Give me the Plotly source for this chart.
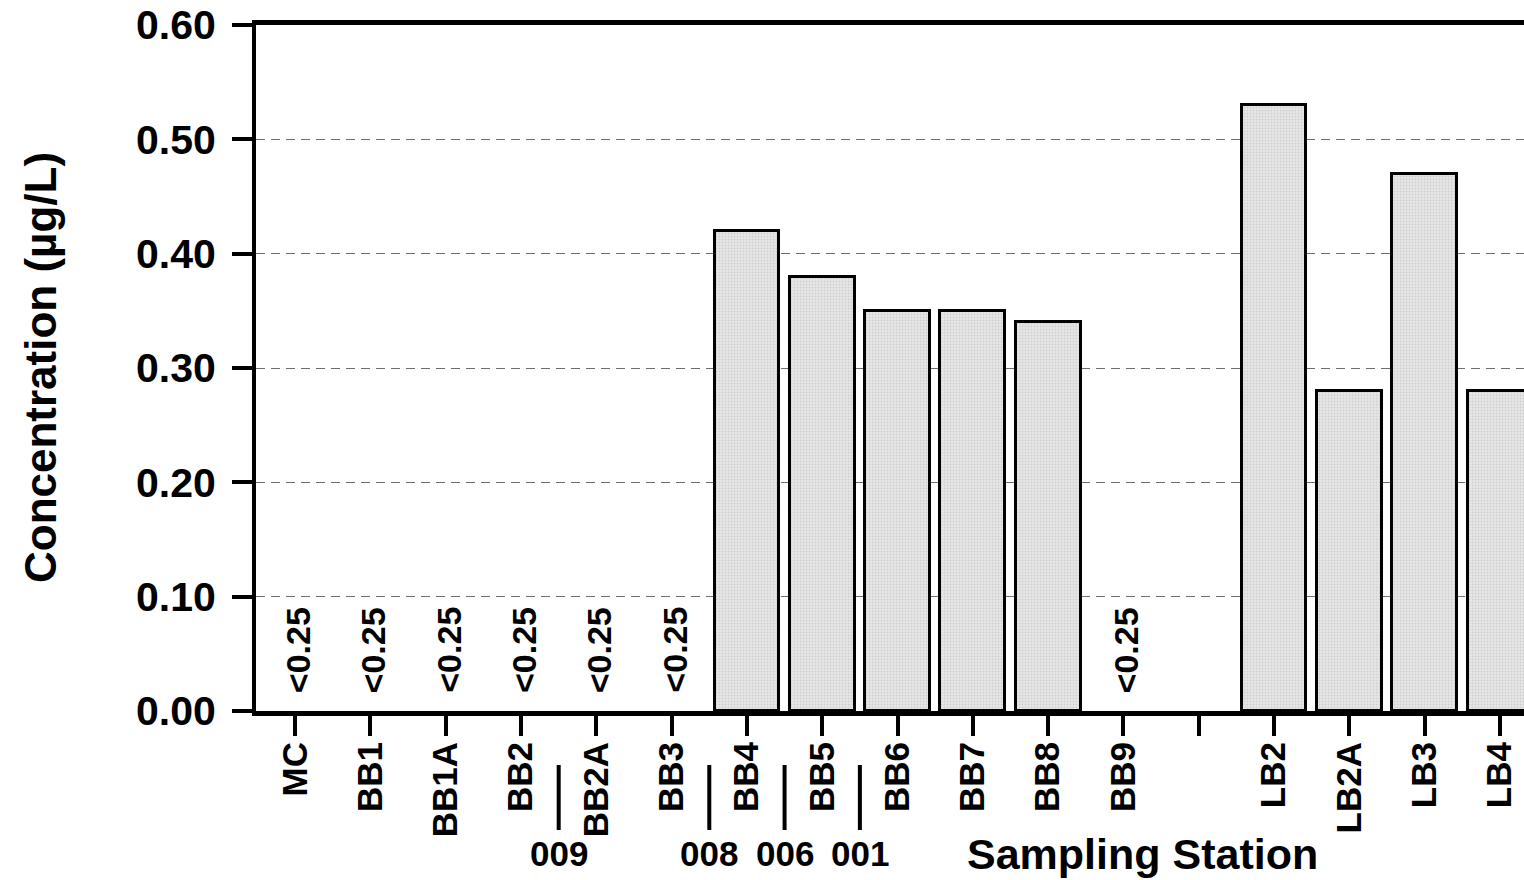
import plotly.graph_objects as go

stations = ["MC", "BB1", "BB1A", "BB2", "BB2A", "BB3", "BB4", "BB5", "BB6",
            "BB7", "BB8", "BB9", "", "LB2", "LB2A", "LB3", "LB4"]
concentration = [None, None, None, None, None, None, 0.42, 0.38, 0.35,
                 0.35, 0.34, None, None, 0.53, 0.28, 0.47, 0.28]
nondetect_label = ["<0.25", "<0.25", "<0.25", "<0.25", "<0.25", "<0.25", "", "", "",
                   "", "", "<0.25", "", "", "", "", ""]
group_breaks = [3.5, 5.5, 6.5, 7.5]
group_labels = ["009", "008", "006", "001"]
y_ticks = [0.0, 0.1, 0.2, 0.3, 0.4, 0.5, 0.6]
y_ticktext = ["0.00", "0.10", "0.20", "0.30", "0.40", "0.50", "0.60"]

FONT = "Liberation Sans, Arial, Helvetica, sans-serif"
idx = list(range(len(stations)))

fig = go.Figure()
bx = [i for i, v in zip(idx, concentration) if v is not None]
by = [v for v in concentration if v is not None]
fig.add_trace(go.Bar(
    x=bx, y=by, width=0.86,
    marker=dict(color="#e4e4e4",
                line=dict(color="black", width=3),
                pattern=dict(shape=".", fgcolor="#b8b8b8", bgcolor="#e6e6e6",
                             size=3, solidity=0.3)),
    showlegend=False, hoverinfo="skip"))

annotations = []
for i, t in zip(idx, nondetect_label):
    if t:
        annotations.append(dict(x=i, y=0.014, xref="x", yref="y", text=t,
                                textangle=-90, showarrow=False, xanchor="center",
                                yanchor="bottom", xshift=3,
                                font=dict(family=FONT, size=34, color="black", weight="bold")))

shapes = []
for b, lab in zip(group_breaks, group_labels):
    shapes.append(dict(type="line", xref="x", yref="paper", x0=b, x1=b,
                       y0=-0.0787, y1=-0.1735, line=dict(color="black", width=4)))
    annotations.append(dict(x=b, y=-0.208, xref="x", yref="paper", text=lab,
                            showarrow=False, xanchor="center", yanchor="middle",
                            font=dict(family=FONT, size=35, color="black", weight="bold")))

annotations.append(dict(x=11.25, y=-0.208, xref="x", yref="paper", text="Sampling Station",
                        showarrow=False, xanchor="center", yanchor="middle",
                        font=dict(family=FONT, size=43, color="black", weight="bold")))
annotations.append(dict(x=(40 - 256) / (1524 - 256), y=0.5, xref="paper", yref="paper",
                        text="Concentration (µg/L)",
                        showarrow=False, xanchor="center", yanchor="middle", textangle=-90,
                        font=dict(family=FONT, size=44, color="black", weight="bold")))

fig.update_layout(
    width=1524, height=880,
    margin=dict(l=256, r=0, t=25, b=169),
    plot_bgcolor="white", paper_bgcolor="white",
    bargap=0,
    annotations=annotations, shapes=shapes,
    xaxis=dict(range=[-0.52, 16.32], tickmode="array", tickvals=idx, ticktext=stations,
               tickangle=-90, ticks="outside", ticklen=20, tickwidth=4, tickcolor="black",
               showline=True, linecolor="black", linewidth=5, mirror=True,
               showgrid=False, zeroline=False, ticklabelstandoff=-8,
               tickfont=dict(family=FONT, size=35, color="black", weight="bold")),
    yaxis=dict(range=[0, 0.6], tickmode="array", tickvals=y_ticks, ticktext=y_ticktext,
               ticks="outside", ticklen=20, tickwidth=4, tickcolor="black",
               showline=True, linecolor="black", linewidth=4,
               showgrid=True, gridcolor="#6e6e6e", gridwidth=1.2, griddash="9px,6px",
               zeroline=False, ticklabelstandoff=8,
               tickfont=dict(family=FONT, size=41, color="black", weight="bold")),
)

fig.write_html("out.html")
